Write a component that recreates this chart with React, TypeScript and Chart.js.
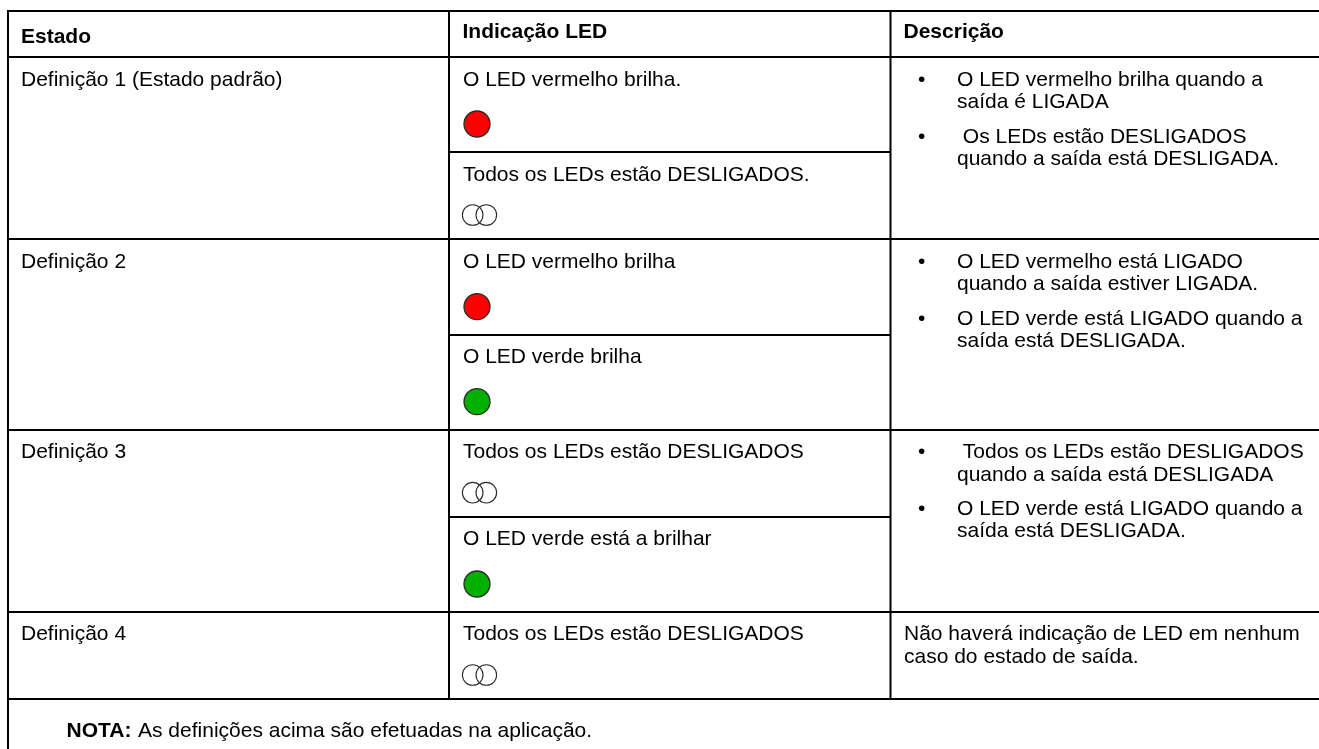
import React, { useEffect, useRef } from "react";
import { Chart, registerables } from "chart.js";

Chart.register(...registerables);

const pageWidth = 1319;
const pageHeight = 749;

// Table rules: [x1, y1, x2, y2]
const heavyRules = [
  [8, 11, 1319, 11],
  [8, 57, 1319, 57],
  [8, 239, 1319, 239],
  [8, 430, 1319, 430],
  [8, 612, 1319, 612],
  [8, 699, 1319, 699],
  [8, 10, 8, 749],
  [449, 11, 449, 699],
  [890.5, 11, 890.5, 699],
];
const thinRules = [
  [449, 152, 890.5, 152],
  [449, 335, 890.5, 335],
  [449, 517, 890.5, 517],
];

// LEDs
const redLeds = [{ x: 477, y: 124 }, { x: 477, y: 306.7 }];
const greenLeds = [{ x: 477, y: 401.7 }, { x: 477, y: 584 }];
const offLedsLeft = [{ x: 472.7, y: 215 }, { x: 472.7, y: 492.7 }, { x: 472.7, y: 675 }];
const offLedsRight = [{ x: 486.3, y: 215 }, { x: 486.3, y: 492.7 }, { x: 486.3, y: 675 }];

const headerTexts: [string, number, number][] = [
  ["Estado", 21, 42.5],
  ["Indicação LED", 462.5, 38],
  ["Descrição", 903.5, 38],
];
const bodyTexts: [string, number, number][] = [
  ["Definição 1 (Estado padrão)", 21, 85.5],
  ["O LED vermelho brilha.", 463, 85.5],
  ["Todos os LEDs estão DESLIGADOS.", 463, 181],
  ["O LED vermelho brilha quando a", 957, 85.5],
  ["saída é LIGADA", 957, 108],
  [" Os LEDs estão DESLIGADOS", 957, 142.5],
  ["quando a saída está DESLIGADA.", 957, 164.5],
  ["Definição 2", 21, 267.5],
  ["O LED vermelho brilha", 463, 267.5],
  ["O LED verde brilha", 463, 363],
  ["O LED vermelho está LIGADO", 957, 267.5],
  ["quando a saída estiver LIGADA.", 957, 290],
  ["O LED verde está LIGADO quando a", 957, 324.5],
  ["saída está DESLIGADA.", 957, 346.5],
  ["Definição 3", 21, 458],
  ["Todos os LEDs estão DESLIGADOS", 463, 458],
  ["O LED verde está a brilhar", 463, 545],
  [" Todos os LEDs estão DESLIGADOS", 957, 458],
  ["quando a saída está DESLIGADA", 957, 480.5],
  ["O LED verde está LIGADO quando a", 957, 515],
  ["saída está DESLIGADA.", 957, 537],
  ["Definição 4", 21, 640],
  ["Todos os LEDs estão DESLIGADOS", 463, 640],
  ["Não haverá indicação de LED em nenhum", 904, 640],
  ["caso do estado de saída.", 904, 662.5],
  ["As definições acima são efetuadas na aplicação.", 138, 737],
];
const boldTexts: [string, number, number][] = [["NOTA:", 66.5, 737]];
const bullets: [string, number, number][] = [
  ["•", 918, 85.5], ["•", 918, 142.5], ["•", 918, 267.5], ["•", 918, 324.5], ["•", 918, 458], ["•", 918, 515],
];

const FONT = '"Liberation Sans", Arial, sans-serif';
const SIZE = 21;

const tablePlugin = {
  id: "tableText",
  afterDatasetsDraw(chart: any) {
    const { ctx, scales } = chart;
    ctx.save();
    ctx.fillStyle = "#000";
    ctx.textBaseline = "alphabetic";
    ctx.textAlign = "left";
    const put = (rows: [string, number, number][], font: string) => {
      ctx.font = font;
      for (const [t, x, y] of rows) ctx.fillText(t, scales.x.getPixelForValue(x), scales.y.getPixelForValue(y));
    };
    put(headerTexts, `bold ${SIZE}px ${FONT}`);
    put(boldTexts, `bold ${SIZE}px ${FONT}`);
    put(bodyTexts, `${SIZE}px ${FONT}`);
    put(bullets, `${SIZE}px ${FONT}`);
    ctx.restore();
  },
};

const ruleSets = (rules: number[][], width: number) =>
  rules.map((r) => ({
    type: "line" as const,
    data: [{ x: r[0], y: r[1] }, { x: r[2], y: r[3] }],
    borderColor: "#000",
    borderWidth: width,
    pointRadius: 0,
    fill: false,
  }));

const ledSet = (data: { x: number; y: number }[], color: string, r: number, bw: number) => ({
  type: "scatter" as const,
  data,
  pointRadius: r,
  pointBackgroundColor: color,
  pointBorderColor: "#2a2a2a",
  pointBorderWidth: bw,
  showLine: false,
});

export default function App() {
  const ref = useRef<HTMLCanvasElement>(null);
  useEffect(() => {
    const chart = new Chart(ref.current!, {
      type: "scatter",
      data: {
        datasets: [
          ...ruleSets(heavyRules, 2),
          ...ruleSets(thinRules, 2),
          ledSet(redLeds, "#ff0000", 13, 1.3),
          ledSet(greenLeds, "#00b000", 13, 1.3),
          ledSet(offLedsLeft, "rgba(255,255,255,0)", 10.3, 1.1),
          ledSet(offLedsRight, "rgba(255,255,255,0)", 10.3, 1.1),
        ] as any,
      },
      options: {
        animation: false,
        responsive: false,
        devicePixelRatio: 1,
        layout: { padding: 0, autoPadding: false },
        plugins: { legend: { display: false }, tooltip: { enabled: false } },
        scales: {
          x: { type: "linear", display: false, min: 0, max: pageWidth },
          y: { type: "linear", display: false, min: 0, max: pageHeight, reverse: true },
        },
      },
      plugins: [tablePlugin],
    });
    return () => chart.destroy();
  }, []);
  return (
    <canvas
      ref={ref}
      width={pageWidth}
      height={pageHeight}
      style={{ position: "fixed", left: 0, top: 0, width: pageWidth, height: pageHeight, background: "#fff" }}
    />
  );
}
